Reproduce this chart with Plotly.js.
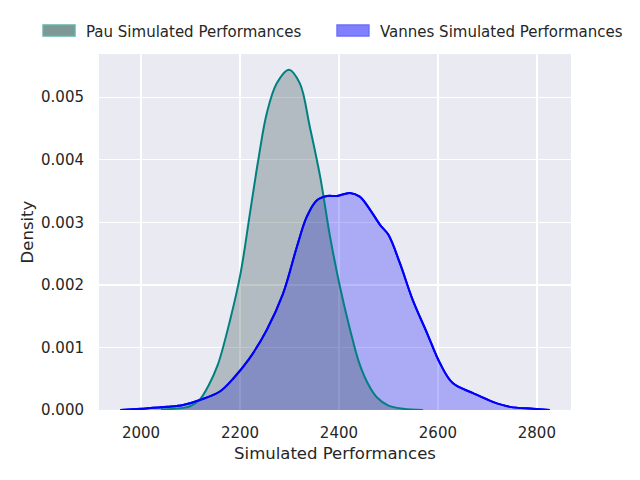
<!DOCTYPE html>
<html><head><meta charset="utf-8">
<script src="https://cdn.plot.ly/plotly-3.0.1.min.js"></script>
<style>html,body{margin:0;padding:0;background:#fff}#chart{width:640px;height:480px}</style>
</head><body><div id="chart"></div>
<script>
const pauX = [2040, 2080, 2099, 2119, 2137, 2155, 2180, 2201, 2220, 2237, 2254, 2274, 2299, 2321, 2341, 2362, 2382, 2402, 2422, 2441, 2460, 2477, 2500, 2530, 2570];
const pauY = [0.00001, 0.00003, 0.00006, 0.00017, 0.0004, 0.00072, 0.00144, 0.00218, 0.00314, 0.0040, 0.00474, 0.00522, 0.00544, 0.00522, 0.00453, 0.00373, 0.00277, 0.00197, 0.0013, 0.00075, 0.0004, 0.0002, 0.00007, 0.00002, 0];
const vanX = [1958, 2000, 2053, 2085, 2119, 2160, 2186, 2217, 2254, 2287, 2315, 2335, 2355, 2376, 2396, 2422, 2442, 2463, 2483, 2500, 2523, 2549, 2578, 2604, 2630, 2671, 2711, 2746, 2792, 2826];
const vanY = [0, 0.00002, 0.00005, 0.00008, 0.00016, 0.0003, 0.0005, 0.0008, 0.00128, 0.00186, 0.00261, 0.00309, 0.00335, 0.00342, 0.00342, 0.00347, 0.00341, 0.0032, 0.00296, 0.0028, 0.00235, 0.00176, 0.00123, 0.00075, 0.00043, 0.00027, 0.00013, 0.00005, 0.00002, 0];
const xTicks = [2000, 2200, 2400, 2600, 2800];
const yTicks = [0, 0.001, 0.002, 0.003, 0.004, 0.005];
const names = ['Pau Simulated Performances', 'Vannes Simulated Performances'];

const txt = '#262626';
const sp = {shape: 'spline', smoothing: 1};
const hidden = {color: 'rgba(0,0,0,0)', width: 0};
const traces = [
  {x: vanX, y: vanY, type: 'scatter', mode: 'lines', fill: 'tozeroy', showlegend: false,
   line: Object.assign({color: 'rgb(0,0,255)', width: 2}, sp), fillcolor: 'rgba(0,0,255,0.27)'},
  {x: pauX, y: pauY, type: 'scatter', mode: 'lines', fill: 'tozeroy', showlegend: false,
   line: Object.assign({color: 'rgb(0,128,128)', width: 2}, sp), fillcolor: 'rgba(47,79,79,0.3)'},
  {x: vanX, y: vanY, type: 'scatter', mode: 'lines', showlegend: false, hoverinfo: 'skip',
   line: Object.assign({color: 'rgb(0,0,255)', width: 2}, sp)},
  {x: [null], y: [null], type: 'scatter', mode: 'lines', name: names[0], legend: 'legend', line: hidden},
  {x: [null], y: [null], type: 'scatter', mode: 'lines', name: names[1], legend: 'legend2', line: hidden}
];
const legendBase = {orientation: 'h', xref: 'container', xanchor: 'left', yref: 'container', y: 0.969, yanchor: 'top',
                    itemwidth: 38, font: {size: 15, color: txt}, bgcolor: 'rgba(0,0,0,0)'};
const layout = {
  width: 640, height: 480,
  margin: {l: 99, r: 69, t: 54, b: 70},
  paper_bgcolor: '#ffffff', plot_bgcolor: '#EAEAF2',
  font: {family: 'DejaVu Sans', color: txt, size: 15},
  showlegend: true,
  legend: Object.assign({}, legendBase, {x: 38 / 640}),
  legend2: Object.assign({}, legendBase, {x: 332 / 640}),
  shapes: [
    {type: 'rect', xref: 'paper', yref: 'paper', x0: -0.1186, x1: -0.0508, y0: 1.0506, y1: 1.0815,
     fillcolor: 'rgb(125,152,149)', line: {color: 'rgb(95,180,170)', width: 1.4}, layer: 'above'},
    {type: 'rect', xref: 'paper', yref: 'paper', x0: 0.5042, x1: 0.5720, y0: 1.0506, y1: 1.0815,
     fillcolor: 'rgb(128,128,255)', line: {color: 'rgb(110,110,245)', width: 1.4}, layer: 'above'}
  ],
  xaxis: {range: [1915, 2869], tickvals: xTicks, ticktext: xTicks.map(String), showgrid: true, gridcolor: '#ffffff', gridwidth: 1.3,
          zeroline: false, showline: false, ticks: '', tickfont: {size: 15, color: txt}, ticklabelstandoff: 12, automargin: false,
          title: {text: 'Simulated Performances', font: {size: 16.5, color: txt}, standoff: 6}},
  yaxis: {range: [0, 0.00569], tickvals: yTicks, ticktext: yTicks.map(v => v.toFixed(3)), showgrid: true, gridcolor: '#ffffff', gridwidth: 1.3,
          zeroline: false, showline: false, ticks: '', tickfont: {size: 15, color: txt}, ticklabelstandoff: 14, automargin: false,
          title: {text: 'Density', font: {size: 16.5, color: txt}, standoff: 3}}
};
Plotly.newPlot('chart', traces, layout, {displayModeBar: false, staticPlot: true});
</script></body></html>
